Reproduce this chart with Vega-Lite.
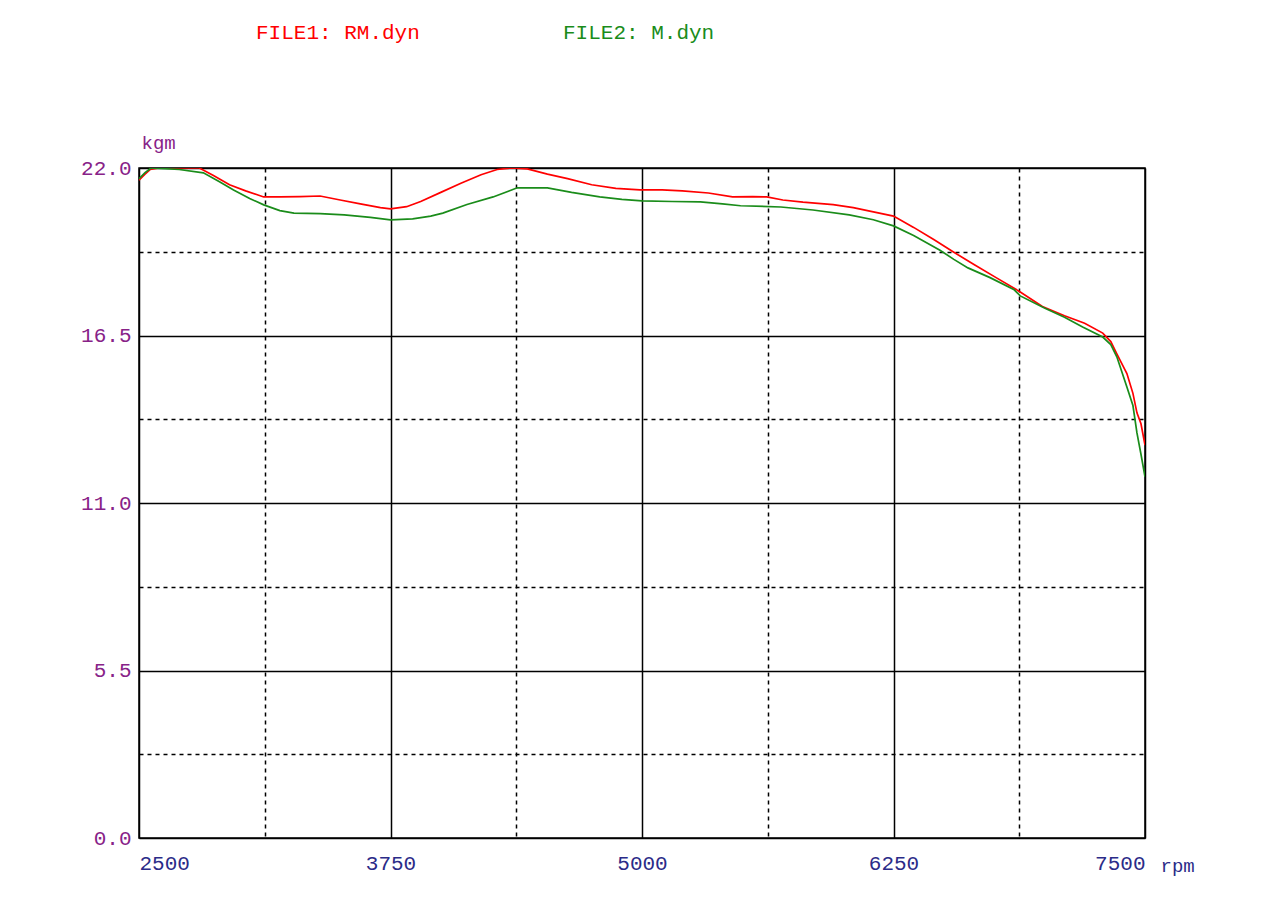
{
  "$schema": "https://vega.github.io/schema/vega-lite/v6.json",
  "width": 1006,
  "height": 670,
  "autosize": {"type": "none"},
  "padding": {"left": 139, "top": 168, "right": 135, "bottom": 85},
  "background": "white",
  "config": {
    "view": {"stroke": "#000", "strokeWidth": 1.5},
    "font": "Liberation Mono"
  },
  "data": {
    "values": [
      {"rpm": 2500, "kgm": 21.6, "file": "FILE1: RM.dyn"},
      {"rpm": 2530, "kgm": 21.8, "file": "FILE1: RM.dyn"},
      {"rpm": 2555, "kgm": 21.95, "file": "FILE1: RM.dyn"},
      {"rpm": 2600, "kgm": 22.0, "file": "FILE1: RM.dyn"},
      {"rpm": 2700, "kgm": 22.0, "file": "FILE1: RM.dyn"},
      {"rpm": 2800, "kgm": 22.0, "file": "FILE1: RM.dyn"},
      {"rpm": 2870, "kgm": 21.75, "file": "FILE1: RM.dyn"},
      {"rpm": 2950, "kgm": 21.45, "file": "FILE1: RM.dyn"},
      {"rpm": 3030, "kgm": 21.25, "file": "FILE1: RM.dyn"},
      {"rpm": 3120, "kgm": 21.05, "file": "FILE1: RM.dyn"},
      {"rpm": 3200, "kgm": 21.05, "file": "FILE1: RM.dyn"},
      {"rpm": 3300, "kgm": 21.06, "file": "FILE1: RM.dyn"},
      {"rpm": 3400, "kgm": 21.08, "file": "FILE1: RM.dyn"},
      {"rpm": 3500, "kgm": 20.95, "file": "FILE1: RM.dyn"},
      {"rpm": 3600, "kgm": 20.82, "file": "FILE1: RM.dyn"},
      {"rpm": 3700, "kgm": 20.7, "file": "FILE1: RM.dyn"},
      {"rpm": 3750, "kgm": 20.66, "file": "FILE1: RM.dyn"},
      {"rpm": 3830, "kgm": 20.73, "file": "FILE1: RM.dyn"},
      {"rpm": 3900, "kgm": 20.9, "file": "FILE1: RM.dyn"},
      {"rpm": 4000, "kgm": 21.2, "file": "FILE1: RM.dyn"},
      {"rpm": 4100, "kgm": 21.5, "file": "FILE1: RM.dyn"},
      {"rpm": 4200, "kgm": 21.78, "file": "FILE1: RM.dyn"},
      {"rpm": 4280, "kgm": 21.95, "file": "FILE1: RM.dyn"},
      {"rpm": 4350, "kgm": 22.0, "file": "FILE1: RM.dyn"},
      {"rpm": 4430, "kgm": 21.97, "file": "FILE1: RM.dyn"},
      {"rpm": 4530, "kgm": 21.8, "file": "FILE1: RM.dyn"},
      {"rpm": 4630, "kgm": 21.65, "file": "FILE1: RM.dyn"},
      {"rpm": 4750, "kgm": 21.45, "file": "FILE1: RM.dyn"},
      {"rpm": 4870, "kgm": 21.33, "file": "FILE1: RM.dyn"},
      {"rpm": 4990, "kgm": 21.28, "file": "FILE1: RM.dyn"},
      {"rpm": 5100, "kgm": 21.28, "file": "FILE1: RM.dyn"},
      {"rpm": 5200, "kgm": 21.25, "file": "FILE1: RM.dyn"},
      {"rpm": 5330, "kgm": 21.18, "file": "FILE1: RM.dyn"},
      {"rpm": 5450, "kgm": 21.05, "file": "FILE1: RM.dyn"},
      {"rpm": 5550, "kgm": 21.06, "file": "FILE1: RM.dyn"},
      {"rpm": 5620, "kgm": 21.05, "file": "FILE1: RM.dyn"},
      {"rpm": 5700, "kgm": 20.95, "file": "FILE1: RM.dyn"},
      {"rpm": 5800, "kgm": 20.88, "file": "FILE1: RM.dyn"},
      {"rpm": 5950, "kgm": 20.8, "file": "FILE1: RM.dyn"},
      {"rpm": 6050, "kgm": 20.7, "file": "FILE1: RM.dyn"},
      {"rpm": 6150, "kgm": 20.56, "file": "FILE1: RM.dyn"},
      {"rpm": 6250, "kgm": 20.42, "file": "FILE1: RM.dyn"},
      {"rpm": 6350, "kgm": 20.05, "file": "FILE1: RM.dyn"},
      {"rpm": 6450, "kgm": 19.65, "file": "FILE1: RM.dyn"},
      {"rpm": 6546, "kgm": 19.25, "file": "FILE1: RM.dyn"},
      {"rpm": 6650, "kgm": 18.83, "file": "FILE1: RM.dyn"},
      {"rpm": 6760, "kgm": 18.4, "file": "FILE1: RM.dyn"},
      {"rpm": 6880, "kgm": 17.93, "file": "FILE1: RM.dyn"},
      {"rpm": 6990, "kgm": 17.45, "file": "FILE1: RM.dyn"},
      {"rpm": 7100, "kgm": 17.15, "file": "FILE1: RM.dyn"},
      {"rpm": 7200, "kgm": 16.9, "file": "FILE1: RM.dyn"},
      {"rpm": 7290, "kgm": 16.58, "file": "FILE1: RM.dyn"},
      {"rpm": 7330, "kgm": 16.3, "file": "FILE1: RM.dyn"},
      {"rpm": 7360, "kgm": 15.9, "file": "FILE1: RM.dyn"},
      {"rpm": 7410, "kgm": 15.25, "file": "FILE1: RM.dyn"},
      {"rpm": 7440, "kgm": 14.6, "file": "FILE1: RM.dyn"},
      {"rpm": 7460, "kgm": 13.96, "file": "FILE1: RM.dyn"},
      {"rpm": 7480, "kgm": 13.6, "file": "FILE1: RM.dyn"},
      {"rpm": 7500, "kgm": 12.9, "file": "FILE1: RM.dyn"},
      {"rpm": 2500, "kgm": 21.65, "file": "FILE2: M.dyn"},
      {"rpm": 2530, "kgm": 21.85, "file": "FILE2: M.dyn"},
      {"rpm": 2560, "kgm": 22.0, "file": "FILE2: M.dyn"},
      {"rpm": 2700, "kgm": 21.95, "file": "FILE2: M.dyn"},
      {"rpm": 2820, "kgm": 21.84, "file": "FILE2: M.dyn"},
      {"rpm": 2900, "kgm": 21.55, "file": "FILE2: M.dyn"},
      {"rpm": 2970, "kgm": 21.28, "file": "FILE2: M.dyn"},
      {"rpm": 3050, "kgm": 21.0, "file": "FILE2: M.dyn"},
      {"rpm": 3120, "kgm": 20.79, "file": "FILE2: M.dyn"},
      {"rpm": 3200, "kgm": 20.6, "file": "FILE2: M.dyn"},
      {"rpm": 3270, "kgm": 20.52, "file": "FILE2: M.dyn"},
      {"rpm": 3400, "kgm": 20.5, "file": "FILE2: M.dyn"},
      {"rpm": 3520, "kgm": 20.46, "file": "FILE2: M.dyn"},
      {"rpm": 3650, "kgm": 20.38, "file": "FILE2: M.dyn"},
      {"rpm": 3750, "kgm": 20.3, "file": "FILE2: M.dyn"},
      {"rpm": 3860, "kgm": 20.33, "file": "FILE2: M.dyn"},
      {"rpm": 3950, "kgm": 20.42, "file": "FILE2: M.dyn"},
      {"rpm": 4010, "kgm": 20.52, "file": "FILE2: M.dyn"},
      {"rpm": 4130, "kgm": 20.8, "file": "FILE2: M.dyn"},
      {"rpm": 4260, "kgm": 21.05, "file": "FILE2: M.dyn"},
      {"rpm": 4380, "kgm": 21.35, "file": "FILE2: M.dyn"},
      {"rpm": 4530, "kgm": 21.35, "file": "FILE2: M.dyn"},
      {"rpm": 4650, "kgm": 21.2, "file": "FILE2: M.dyn"},
      {"rpm": 4790, "kgm": 21.05, "file": "FILE2: M.dyn"},
      {"rpm": 4900, "kgm": 20.97, "file": "FILE2: M.dyn"},
      {"rpm": 5000, "kgm": 20.92, "file": "FILE2: M.dyn"},
      {"rpm": 5150, "kgm": 20.9, "file": "FILE2: M.dyn"},
      {"rpm": 5290, "kgm": 20.89, "file": "FILE2: M.dyn"},
      {"rpm": 5400, "kgm": 20.82, "file": "FILE2: M.dyn"},
      {"rpm": 5490, "kgm": 20.76, "file": "FILE2: M.dyn"},
      {"rpm": 5690, "kgm": 20.72, "file": "FILE2: M.dyn"},
      {"rpm": 5850, "kgm": 20.62, "file": "FILE2: M.dyn"},
      {"rpm": 6030, "kgm": 20.46, "file": "FILE2: M.dyn"},
      {"rpm": 6150, "kgm": 20.3, "file": "FILE2: M.dyn"},
      {"rpm": 6250, "kgm": 20.1, "file": "FILE2: M.dyn"},
      {"rpm": 6350, "kgm": 19.78, "file": "FILE2: M.dyn"},
      {"rpm": 6481, "kgm": 19.3, "file": "FILE2: M.dyn"},
      {"rpm": 6550, "kgm": 19.0, "file": "FILE2: M.dyn"},
      {"rpm": 6620, "kgm": 18.72, "file": "FILE2: M.dyn"},
      {"rpm": 6730, "kgm": 18.4, "file": "FILE2: M.dyn"},
      {"rpm": 6850, "kgm": 18.0, "file": "FILE2: M.dyn"},
      {"rpm": 6880, "kgm": 17.8, "file": "FILE2: M.dyn"},
      {"rpm": 7000, "kgm": 17.4, "file": "FILE2: M.dyn"},
      {"rpm": 7100, "kgm": 17.1, "file": "FILE2: M.dyn"},
      {"rpm": 7190, "kgm": 16.78, "file": "FILE2: M.dyn"},
      {"rpm": 7290, "kgm": 16.45, "file": "FILE2: M.dyn"},
      {"rpm": 7330, "kgm": 16.2, "file": "FILE2: M.dyn"},
      {"rpm": 7360, "kgm": 15.8, "file": "FILE2: M.dyn"},
      {"rpm": 7410, "kgm": 14.81, "file": "FILE2: M.dyn"},
      {"rpm": 7440, "kgm": 14.2, "file": "FILE2: M.dyn"},
      {"rpm": 7460, "kgm": 13.3, "file": "FILE2: M.dyn"},
      {"rpm": 7480, "kgm": 12.6, "file": "FILE2: M.dyn"},
      {"rpm": 7500, "kgm": 11.86, "file": "FILE2: M.dyn"}
    ]
  },
  "mark": {"type": "line", "strokeWidth": 1.7, "clip": true},
  "encoding": {
    "x": {
      "field": "rpm",
      "type": "quantitative",
      "scale": {"domain": [2500, 7500], "nice": false, "zero": false},
      "axis": {
        "values": [2500, 3125, 3750, 4375, 5000, 5625, 6250, 6875, 7500],
        "format": "d",
        "labelExpr": "datum.value % 1250 == 0 ? datum.label : ''",
        "grid": true,
        "gridColor": "#000",
        "gridOpacity": 1,
        "gridWidth": 1.5,
        "gridDash": {"condition": {"test": "datum.value % 1250 != 0", "value": [4, 4]}, "value": []},
        "domain": false,
        "ticks": false,
        "labelFlush": true,
        "labelColor": "#2b2b88",
        "labelFontSize": 21,
        "labelPadding": 14,
        "title": "rpm",
        "titleX": 1021,
        "titleY": 27,
        "titleAlign": "left",
        "titleBaseline": "middle",
        "titleColor": "#2b2b88",
        "titleFontWeight": "normal",
        "titleFontSize": 19
      }
    },
    "y": {
      "field": "kgm",
      "type": "quantitative",
      "scale": {"domain": [0, 22], "nice": false},
      "axis": {
        "values": [0, 2.75, 5.5, 8.25, 11, 13.75, 16.5, 19.25, 22],
        "labelExpr": "datum.value % 5.5 == 0 ? format(datum.value, '.1f') : ''",
        "grid": true,
        "gridColor": "#000",
        "gridOpacity": 1,
        "gridWidth": 1.5,
        "gridDash": {"condition": {"test": "datum.value % 5.5 != 0", "value": [4, 4]}, "value": []},
        "domain": false,
        "ticks": false,
        "labelColor": "#882288",
        "labelFontSize": 21,
        "labelPadding": 8,
        "title": "kgm",
        "titleAngle": 0,
        "titleX": 2,
        "titleY": -26,
        "titleAlign": "left",
        "titleBaseline": "middle",
        "titleColor": "#882288",
        "titleFontWeight": "normal",
        "titleFontSize": 19
      }
    },
    "color": {
      "field": "file",
      "type": "nominal",
      "scale": {"domain": ["FILE1: RM.dyn", "FILE2: M.dyn"], "range": ["#ff0000", "#1a8c1a"]},
      "legend": {
        "title": null,
        "orient": "none",
        "legendX": 96,
        "legendY": -146,
        "direction": "horizontal",
        "symbolSize": 0,
        "symbolStrokeWidth": 0,
        "labelOffset": 0,
        "labelFontSize": 21,
        "labelLimit": 400,
        "columnPadding": 122,
        "encode": {"labels": {"update": {"fill": {"signal": "scale('color', datum.value)"}}}}
      }
    }
  }
}
